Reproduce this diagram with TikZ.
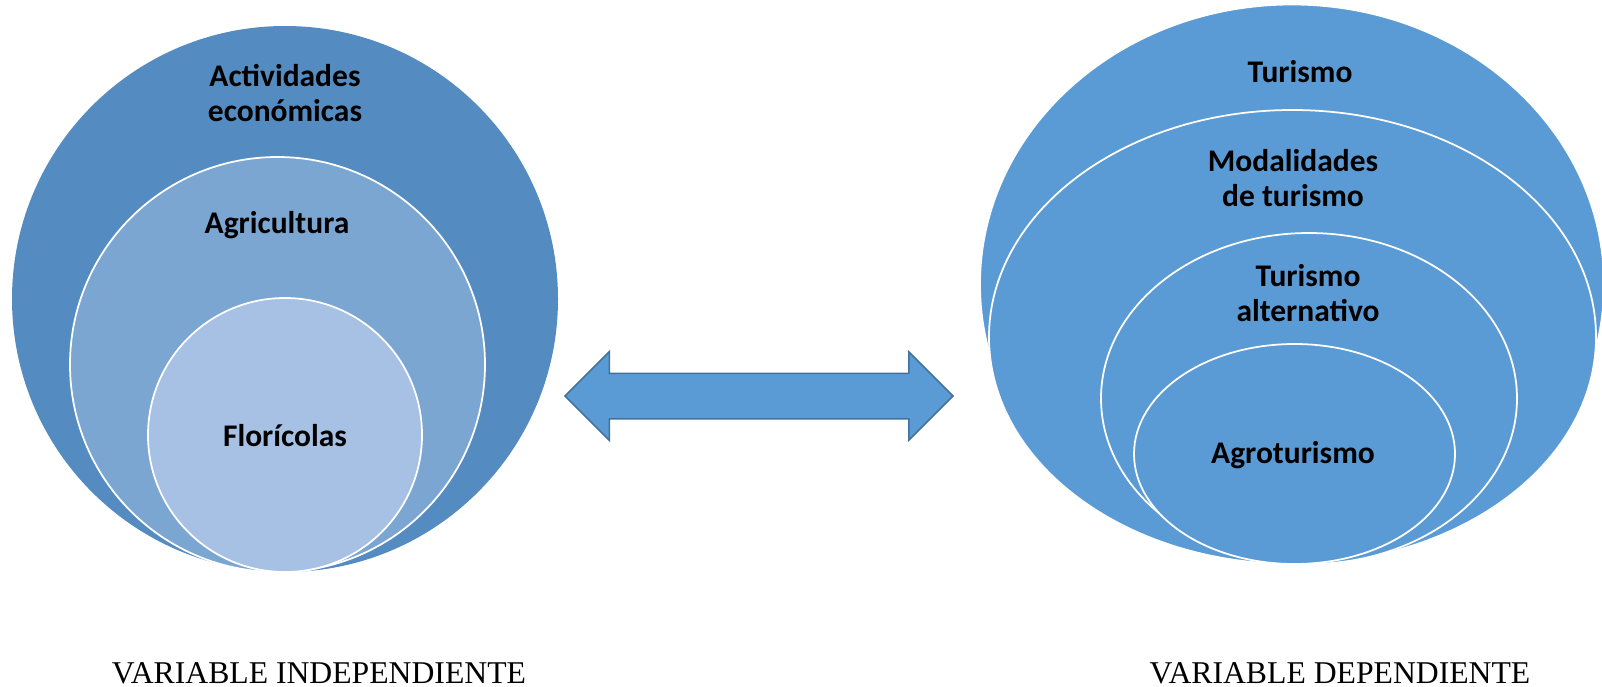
\documentclass[tikz,border=0pt]{standalone}
\usepackage{fontspec}
\setmainfont{Liberation Serif}
\newfontfamily\calib{Carlito}
\usetikzlibrary{shapes,arrows,calc}
\usepackage{color}

\definecolor{actblue}{RGB}{84,140,193}
\definecolor{agrblue}{RGB}{124,166,210}
\definecolor{florblue}{RGB}{166,193,228}
\definecolor{turblue}{RGB}{91,155,213}
\definecolor{edgeblue}{RGB}{65,113,156}

\begin{document}
\begin{tikzpicture}[x=1pt, y=-1pt, >=latex',
  ring/.style={circle, draw=white, line width=1.75pt, inner sep=0pt},
  oval/.style={ellipse, draw=white, line width=1.75pt, inner sep=0pt, fill=turblue},
  lbl/.style={font=\calib\bfseries\fontsize{31.5}{35}\selectfont, align=center},
  varlbl/.style={font=\fontsize{31.7}{36}\selectfont, anchor=base}]

\useasboundingbox (0,0) rectangle (1602,687);

% independent side
\node [ring, fill=actblue, draw=none, minimum size=546pt] at (285, 299) (ACT) {};
\node [ring, fill=agrblue, minimum size=415pt] at (277.5, 364.5) (AGR) {};
\node [ring, fill=florblue, minimum size=274pt] at (285, 435) (FLOR) {};

\node [lbl] at (285, 93) (ACTTXT) {Actividades\\económicas};
\node [lbl, anchor=base] at (277, 233) (AGRTXT) {Agricultura};
\node [lbl, anchor=base] at (285, 446) (FLORTXT) {Florícolas};

% dependent side
\node [oval, minimum width=624pt, minimum height=560pt] at (1292, 284.5) (TUR) {};
\node [oval, minimum width=607pt, minimum height=454pt] at (1292.5, 337) (MOD) {};
\node [oval, minimum width=416pt, minimum height=331pt] at (1309, 398.5) (ALT) {};
\node [oval, minimum width=321pt, minimum height=220pt] at (1294.5, 454) (AGRO) {};

\node [lbl, anchor=base] at (1300, 83) (TURTXT) {Turismo};
\node [lbl] at (1293, 178) (MODTXT) {Modalidades\\de turismo};
\node [lbl] at (1308, 293) (ALTTXT) {Turismo\\alternativo};
\node [lbl, anchor=base] at (1293, 463) (AGROTXT) {Agroturismo};

% relation between both variables
\node [double arrow, draw=edgeblue, fill=turblue, line width=1.5pt,
       inner xsep=0pt, inner ysep=22pt,
       minimum height=388pt, double arrow head extend=21.5pt]
       at (759, 396) (REL) {};

\node [varlbl] at (319, 683) (INDEP) {VARIABLE INDEPENDIENTE};
\node [varlbl] at (1340, 683) (DEP) {VARIABLE DEPENDIENTE};

\end{tikzpicture}
\end{document}
